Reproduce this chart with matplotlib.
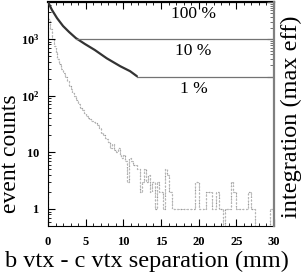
import numpy as np
import matplotlib
matplotlib.use("Agg")
import matplotlib.pyplot as plt
from matplotlib.ticker import FixedLocator, NullFormatter, FixedFormatter

plt.rcParams['font.family'] = ['Liberation Serif', 'DejaVu Serif']
plt.rcParams['mathtext.fontset'] = 'custom'
plt.rcParams['mathtext.rm'] = 'Liberation Serif'
plt.rcParams['mathtext.bf'] = 'Liberation Serif:bold'

# ---- data ----
bin_width = 0.25
hist_counts = [
    2300, 1500, 1000, 750, 580, 450, 360, 300, 250, 210,
    180, 150, 130, 110, 98, 85, 72, 60, 55, 50,
    44, 40, 38, 36, 34, 33, 30, 27, 22, 20,
    18, 17, 15, 12, 14, 11, 10, 12, 9, 8,
    9, 7, 3, 8, 7, 6, 6, 5, 5, 2,
    3, 5, 3, 4, 2, 3, 3, 1, 3, 2,
    2, 1, 5, 4, 2, 2, 1, 1, 1, 1,
    1, 1, 1, 1, 1, 1, 1, 1, 3, 3,
    1, 1, 1, 1, 2, 2, 2, 1, 1, 2,
    2, 1, 1, 0, 1, 1, 1, 3, 2, 2,
    1, 1, 1, 1, 1, 1, 2, 2, 1, 1,
    0, 0, 0, 0, 0, 0, 0, 0, 1, 1,
]
integ_x = [0.0, 0.53, 1.2, 2.0, 2.8, 3.7, 4.9, 6.2, 7.8, 9.6, 10.9, 11.8]
integ_frac = [1.0, 0.61, 0.37, 0.227, 0.157, 0.108, 0.075, 0.052, 0.031, 0.019, 0.014, 0.0103]
levels = [0.1, 0.01]
level_start = [3.7, 11.8]
pct_labels = ["100 %", "10 %", "1 %"]
pct_label_y = [0.47, 0.05, 0.0048]
x_ticks = [0, 5, 10, 15, 20, 25, 30]
y_ticks = [1, 10, 100, 1000]
y_ticklabels = [r"$\mathbf{1}$", r"$\mathbf{10}$", r"$\mathbf{10^{2}}$", r"$\mathbf{10^{3}}$"]

fig = plt.figure(figsize=(3.05, 2.73), dpi=100)
ax = fig.add_axes([48/305, 47/273, 226/305, 224/273])

edges = np.arange(len(hist_counts) + 1) * bin_width
counts = np.array(hist_counts, dtype=float)
counts_plot = np.where(counts > 0, counts, 0.3)
ax.stairs(counts_plot, edges, color='0.6', lw=0.9, linestyle=':')
ax.stairs(counts_plot, edges, color='0.72', lw=0.6, linestyle=(0, (3, 2)))

ax.set_yscale('log')
ax.set_xlim(0, 30)
ax.set_ylim(0.5, 4500)
ax.xaxis.set_major_locator(FixedLocator(x_ticks))
ax.xaxis.set_minor_locator(FixedLocator(np.arange(0, 31, 1)))
ax.yaxis.set_major_locator(FixedLocator(y_ticks))
ax.yaxis.set_major_formatter(FixedFormatter(y_ticklabels))
minor_y = [m * 10**d for d in range(-1, 4) for m in range(2, 10)]
ax.yaxis.set_minor_locator(FixedLocator(minor_y))
ax.yaxis.set_minor_formatter(NullFormatter())
ax.set_xticklabels([str(t) for t in x_ticks], fontweight='bold', fontsize=9)
ax.tick_params(axis='x', which='both', direction='in', top=True, bottom=True, pad=7)
ax.tick_params(axis='x', which='major', length=5, width=0.8)
ax.tick_params(axis='x', which='minor', length=2.5, width=0.6)
ax.tick_params(axis='y', which='both', direction='in', right=False, pad=6, labelsize=9)
ax.tick_params(axis='y', which='major', length=5, width=0.8)
ax.tick_params(axis='y', which='minor', length=2.5, width=0.6)

ax.spines['top'].set_linewidth(1.6)
ax.spines['left'].set_linewidth(0.8)
ax.spines['bottom'].set_linewidth(0.8)
ax.spines['right'].set_visible(False)

ax2 = ax.twinx()
ax2.set_yscale('log')
ax2.set_ylim(1e-6, 1)
ax2.plot(integ_x, integ_frac, color='0.2', lw=1.6, solid_capstyle='round')
for lv, xs in zip(levels, level_start):
    ax2.plot([xs, 30], [lv, lv], color='0.45', lw=0.9)
for lab, yv in zip(pct_labels, pct_label_y):
    ax2.text(19.3, yv, lab, ha='center', va='center', fontsize=12.5)
ax2.yaxis.set_major_locator(FixedLocator([0.01, 0.1, 1]))
ax2.yaxis.set_minor_locator(FixedLocator([m * 10**d for d in (-2, -1) for m in range(2, 10)]))
ax2.yaxis.set_major_formatter(NullFormatter())
ax2.yaxis.set_minor_formatter(NullFormatter())
ax2.tick_params(axis='y', which='both', direction='in', color='0.35')
ax2.tick_params(axis='y', which='major', length=5, width=0.8)
ax2.tick_params(axis='y', which='minor', length=3, width=0.6)
for s in ['top', 'left', 'bottom']:
    ax2.spines[s].set_visible(False)
ax2.spines['right'].set_linewidth(1.6)
ax2.spines['right'].set_color('0.5')

fig.text(11/305, 1 - 154/273, "event counts", rotation=90, ha='center', va='center', fontsize=17)
fig.text(291/305, 1 - 117/273, "integration (max eff)", rotation=90, ha='center', va='center', fontsize=17.5)
fig.text(147/305, 1 - 261/273, "b vtx - c vtx separation (mm)", ha='center', va='center', fontsize=17.5)

fig.savefig("out.png", dpi=100)
